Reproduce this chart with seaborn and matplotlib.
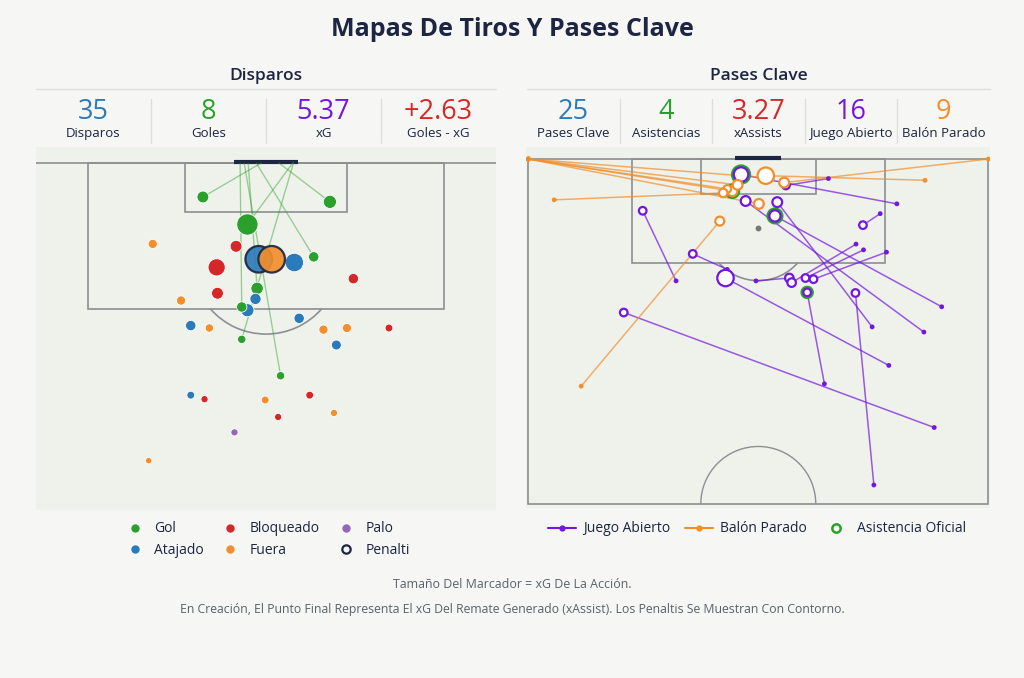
import numpy as np
import pandas as pd
import seaborn as sns
import matplotlib.pyplot as plt
from matplotlib.lines import Line2D
from matplotlib.patches import Rectangle, Arc

# ---------------- datos ----------------
# coordenadas de campo 120x80, ataque hacia x = 120 (linea de gol)
shot_w = [32.2, 47.9, 37.7, 26.0, 36.3, 39.1, 40.7, 43.5, 45.9, 33.9, 50.8, 38.9,
          34.0, 29.5, 38.7, 37.7, 37.0, 44.1, 30.7, 33.0, 47.1, 50.0, 55.2, 37.0,
          48.7, 41.8, 30.7, 32.4, 39.9, 45.4, 48.4, 41.5, 36.1, 25.5]
shot_x = [115.8, 115.2, 112.4, 110.0, 109.7, 108.1, 108.1, 107.7, 108.4, 107.1, 105.7, 104.5,
          103.9, 103.0, 103.2, 101.8, 102.2, 100.8, 99.9, 99.6, 99.4, 99.6, 99.6, 98.2,
          97.5, 93.7, 91.3, 90.8, 90.7, 91.3, 89.1, 88.6, 86.7, 83.2]
shot_xg = [0.155, 0.19, 0.49, 0.095, 0.155, 0.76, 0.76, 0.37, 0.12, 0.32, 0.12, 0.17,
           0.155, 0.095, 0.14, 0.19, 0.12, 0.12, 0.12, 0.08, 0.095, 0.095, 0.07, 0.08,
           0.11, 0.08, 0.07, 0.06, 0.07, 0.07, 0.06, 0.06, 0.06, 0.05]
shot_res = ["Gol", "Gol", "Gol", "Fuera", "Bloqueado", "Atajado", "Fuera", "Atajado",
            "Gol", "Bloqueado", "Bloqueado", "Gol", "Bloqueado", "Fuera", "Atajado",
            "Atajado", "Gol", "Atajado", "Atajado", "Fuera", "Fuera", "Fuera", "Bloqueado",
            "Gol", "Atajado", "Gol", "Atajado", "Bloqueado", "Fuera", "Bloqueado",
            "Fuera", "Bloqueado", "Palo", "Fuera"]
shot_pen = [False] * 5 + [True, True] + [False] * 27
# punto de la linea de gol al que va cada gol
goal_end_w = [39.4, 41.6, 43.3, np.nan, np.nan, np.nan, np.nan, np.nan, 38.8, np.nan,
              np.nan, 37.8, np.nan, np.nan, np.nan, np.nan, 36.8, np.nan, np.nan, np.nan,
              np.nan, np.nan, np.nan, 43.4, np.nan, 37.3, np.nan, np.nan, np.nan, np.nan,
              np.nan, np.nan, np.nan, np.nan]

# pases clave: inicio -> final (remate generado)
pass_sw = [25.7, 34.6, 62.7, 70.6, 39.6, 57.0, 58.3, 62.3, 51.5, 60.1, 61.2, 71.9,
           59.8, 68.8, 52.2, 64.1,
           0.0, 0.0, 0.0, 0.0, 0.0, 4.5, 80.0, 69.0, 9.2]
pass_sx = [98.8, 100.8, 84.1, 73.3, 98.8, 105.2, 104.2, 103.8, 80.9, 63.3, 110.5, 94.3,
           90.8, 89.9, 116.6, 112.2,
           120.0, 120.0, 120.0, 120.0, 120.0, 112.9, 120.0, 116.3, 80.5]
pass_ew = [19.9, 28.6, 34.3, 16.6, 45.4, 45.8, 48.2, 49.6, 48.5, 56.9, 58.2, 42.9,
           43.3, 37.8, 44.8, 37.0,
           35.5, 36.4, 40.1, 42.0, 34.6, 33.9, 44.5, 41.3, 33.3]
pass_ex = [111.0, 103.5, 99.3, 93.3, 99.3, 98.5, 99.3, 99.1, 96.8, 96.7, 108.5, 110.1,
           112.5, 112.7, 115.4, 117.3,
           114.4, 115.5, 112.2, 116.7, 114.8, 114.1, 115.9, 117.1, 109.2]
pass_xa = [0.08, 0.08, 0.36, 0.08, 0.10, 0.10, 0.08, 0.08, 0.08, 0.08, 0.08, 0.17,
           0.13, 0.13, 0.08, 0.28,
           0.13, 0.13, 0.13, 0.08, 0.08, 0.10, 0.13, 0.36, 0.11]
pass_tipo = ["Juego Abierto"] * 16 + ["Balón Parado"] * 9
pass_asist = ([False] * 8 + [True, False, False, True, False, False, False, True]
              + [True] + [False] * 8)

left_vals = ["35", "8", "5.37", "+2.63"]
left_labels = ["Disparos", "Goles", "xG", "Goles - xG"]
right_vals = ["25", "4", "3.27", "16", "9"]
right_labels = ["Pases Clave", "Asistencias", "xAssists", "Juego Abierto", "Balón Parado"]

# ---------------- estilo ----------------
sns.set_style("white")
plt.rcParams["font.family"] = ["Open Sans", "DejaVu Sans"]

BG = "#f6f6f4"
PITCH = "#eff2eb"
LINE = "#8c8f94"
NAVY = "#1c2541"
BLUE, GREEN, RED, ORANGE = "#2b7bba", "#2ca02c", "#d62728", "#f28e2b"
VIOLET, PALO = "#7216e0", "#9467bd"
res_pal = {"Gol": GREEN, "Atajado": BLUE, "Bloqueado": RED, "Fuera": ORANGE, "Palo": PALO}
tipo_pal = {"Juego Abierto": VIOLET, "Balón Parado": ORANGE}

shots = pd.DataFrame({"w": shot_w, "x": shot_x, "xg": shot_xg, "res": shot_res,
                      "pen": shot_pen, "gw": goal_end_w})
passes = pd.DataFrame({"sw": pass_sw, "sx": pass_sx, "ew": pass_ew, "ex": pass_ex,
                       "xa": pass_xa, "tipo": pass_tipo, "asist": pass_asist})

W, H = 1024, 678
fig = plt.figure(figsize=(W / 100, H / 100), dpi=100, facecolor=BG)


def fx(px):
    return px / W


def fy(py):
    return 1 - py / H


def add_ax(x0, y0, x1, y1):
    ax = fig.add_axes([fx(x0), fy(y1), fx(x1 - x0), (y1 - y0) / H])
    ax.set_facecolor(PITCH)
    for s in ax.spines.values():
        s.set_visible(False)
    ax.set_xticks([])
    ax.set_yticks([])
    return ax


def area_lines(ax):
    kw = dict(fill=False, ec=LINE, lw=1.2, zorder=1)
    ax.add_patch(Rectangle((18, 102), 44, 18, **kw))
    ax.add_patch(Rectangle((30, 114), 20, 6, **kw))
    ax.add_patch(Arc((40, 108), 18.3, 18.3, theta1=221, theta2=319, ec=LINE, lw=1.2, zorder=1))
    ax.plot([36, 44], [120.15, 120.15], color=NAVY, lw=3, solid_capstyle="butt", zorder=2)


# ---------------- mapa de disparos ----------------
axl = add_ax(36, 147, 496, 510)
axl.plot([0, 80], [120, 120], color=LINE, lw=1.2, zorder=1)
area_lines(axl)

goals = shots.dropna(subset=["gw"]).reset_index()
gl = pd.concat([
    pd.DataFrame({"id": goals["index"], "w": goals["w"], "x": goals["x"]}),
    pd.DataFrame({"id": goals["index"], "w": goals["gw"], "x": 120.0}),
])
sns.lineplot(data=gl, x="w", y="x", units="id", estimator=None, sort=False,
             color=GREEN, alpha=0.45, lw=1, ax=axl, zorder=2)

size_kw = dict(size="xg", sizes=(22, 366), size_norm=(0.05, 0.76), legend=False)
sns.scatterplot(data=shots[~shots["pen"]], x="w", y="x", hue="res", palette=res_pal,
                edgecolor="white", linewidth=0.6, ax=axl, zorder=3, **size_kw)
sns.scatterplot(data=shots[shots["pen"]], x="w", y="x", hue="res", palette=res_pal,
                edgecolor=NAVY, linewidth=1.6, alpha=0.92, ax=axl, zorder=4, **size_kw)
axl.set_xlim(11.57, 68.43)
axl.set_ylim(77.1, 121.98)
axl.set_xlabel("")
axl.set_ylabel("")

# ---------------- mapa de pases clave ----------------
axr = add_ax(526, 147, 990, 508)
axr.add_patch(Rectangle((0, 60), 80, 60, fill=False, ec=LINE, lw=1.2, zorder=1))
area_lines(axr)
axr.add_patch(Arc((40, 60), 20, 20, theta1=0, theta2=180, ec=LINE, lw=1.0, zorder=1))
axr.scatter([40], [108], s=10, color="#777777", zorder=1)

pl = pd.concat([
    pd.DataFrame({"id": passes.index, "w": passes["sw"], "x": passes["sx"], "tipo": passes["tipo"]}),
    pd.DataFrame({"id": passes.index, "w": passes["ew"], "x": passes["ex"], "tipo": passes["tipo"]}),
])
sns.lineplot(data=pl, x="w", y="x", units="id", estimator=None, sort=False, hue="tipo",
             palette=tipo_pal, alpha=0.7, lw=1.1, legend=False, ax=axr, zorder=2)
sns.scatterplot(data=passes, x="sw", y="sx", hue="tipo", palette=tipo_pal, s=12,
                linewidth=0, legend=False, ax=axr, zorder=3)

xa_kw = dict(size="xa", sizes=(30, 140), size_norm=(0.08, 0.36), legend=False)
sns.scatterplot(data=passes[passes["asist"]], x="ew", y="ex", color=GREEN,
                edgecolor=GREEN, linewidth=4.2, ax=axr, zorder=4, **xa_kw)
for tipo, col in tipo_pal.items():
    sub = passes[passes["tipo"] == tipo]
    sns.scatterplot(data=sub, x="ew", y="ex", color="white", edgecolor=col,
                    linewidth=1.6, ax=axr, zorder=5, **xa_kw)
axr.set_xlim(-0.4, 80.3)
axr.set_ylim(59.3, 122.09)
axr.set_xlabel("")
axr.set_ylabel("")

# ---------------- textos ----------------
fig.text(0.5, fy(29), "Mapas De Tiros Y Pases Clave", ha="center", va="center",
         fontsize=18, fontweight="bold", color=NAVY)


def panel(x0, x1, title, vals, labels, colors):
    fig.text(fx((x0 + x1) / 2), fy(76), title, ha="center", va="center",
             fontsize=12.5, fontweight="semibold", color=NAVY)
    fig.add_artist(Line2D([fx(x0), fx(x1)], [fy(89), fy(89)], color="#dedede", lw=1))
    n = len(vals)
    cw = (x1 - x0) / n
    for i, (v, l, c) in enumerate(zip(vals, labels, colors)):
        cx = x0 + cw * (i + 0.5)
        fig.text(fx(cx), fy(112), v, ha="center", va="center", fontsize=19.5, color=c)
        fig.text(fx(cx), fy(133.5), l, ha="center", va="center", fontsize=9.5, color=NAVY)
        if i > 0:
            sx = x0 + cw * i
            fig.add_artist(Line2D([fx(sx), fx(sx)], [fy(99), fy(143)], color="#dedede", lw=1))


panel(36, 496, "Disparos", left_vals, left_labels, [BLUE, GREEN, VIOLET, RED])
panel(527, 990, "Pases Clave", right_vals, right_labels, [BLUE, GREEN, RED, VIOLET, ORANGE])


# leyendas
def dot(c, face=True):
    return Line2D([], [], marker="o", linestyle="", markersize=6,
                  markerfacecolor=c if face else "none", markeredgecolor=c,
                  markeredgewidth=0 if face else 1.6)


lh = [dot(GREEN), dot(BLUE), dot(RED), dot(ORANGE), dot(PALO), dot(NAVY, False)]
ll = ["Gol", "Atajado", "Bloqueado", "Fuera", "Palo", "Penalti"]
fig.legend(lh, ll, ncol=3, loc="upper center", bbox_to_anchor=(fx(268), fy(509)),
           frameon=False, fontsize=10, handlelength=1.2, handletextpad=0.8,
           columnspacing=1.3, labelspacing=0.45, labelcolor=NAVY)

rh = [Line2D([], [], color=VIOLET, lw=1.5, marker="o", markersize=3.5),
      Line2D([], [], color=ORANGE, lw=1.5, marker="o", markersize=3.5),
      Line2D([], [], color=GREEN, linestyle="", marker="o", markersize=6,
             markerfacecolor="none", markeredgewidth=1.8)]
rl = ["Juego Abierto", "Balón Parado", "Asistencia Oficial"]
fig.legend(rh, rl, ncol=3, loc="upper center", bbox_to_anchor=(fx(757), fy(509)),
           frameon=False, fontsize=10, handlelength=2.0, handletextpad=0.5,
           columnspacing=1.1, labelcolor=NAVY)

fig.text(0.5, fy(585), "Tamaño Del Marcador = xG De La Acción.", ha="center", va="center",
         fontsize=8.9, color="#5a616b")
fig.text(0.5, fy(610), "En Creación, El Punto Final Representa El xG Del Remate Generado "
         "(xAssist). Los Penaltis Se Muestran Con Contorno.", ha="center", va="center",
         fontsize=8.8, color="#5a616b")

fig.savefig("out.png", dpi=100, facecolor=BG)
